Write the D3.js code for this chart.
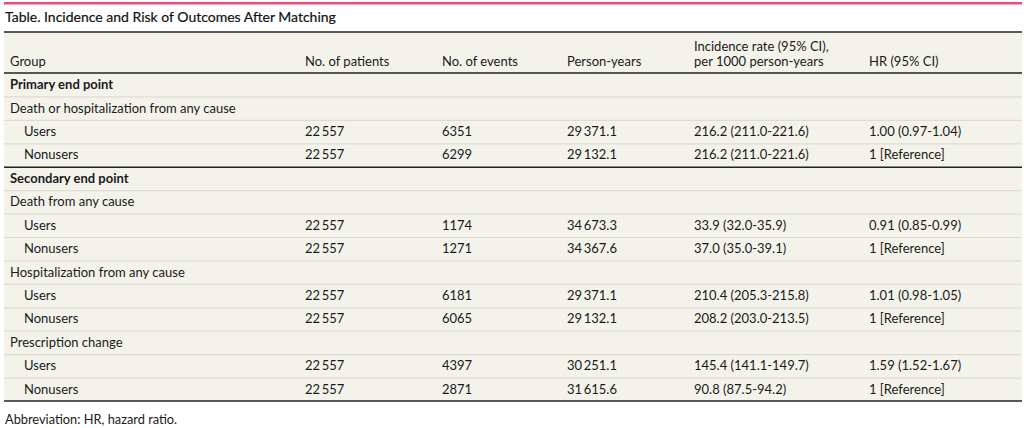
<!DOCTYPE html>
<html>
<head>
<meta charset="utf-8">
<script src="https://cdn.jsdelivr.net/npm/d3@7"></script>
<style>
  body { margin: 0; background: #fff; }
  svg { display: block; font-family: Lato, "Open Sans", sans-serif; }
</style>
</head>
<body>
<script>
(function () {
    'use strict';

    var title = 'Table. Incidence and Risk of Outcomes After Matching';
    var footnote = 'Abbreviation: HR, hazard ratio.';
    var headers = ['Group', 'No. of patients', 'No. of events', 'Person-years',
        'Incidence rate (95% CI),|per 1000 person-years', 'HR (95% CI)'];

    // row kinds: section (bold), outcome, group (indented)
    var rowKinds = ['section', 'outcome', 'group', 'group',
        'section', 'outcome', 'group', 'group', 'outcome', 'group', 'group', 'outcome', 'group', 'group'];
    var rowLabels = ['Primary end point', 'Death or hospitalization from any cause', 'Users', 'Nonusers',
        'Secondary end point', 'Death from any cause', 'Users', 'Nonusers',
        'Hospitalization from any cause', 'Users', 'Nonusers',
        'Prescription change', 'Users', 'Nonusers'];
    var patients = ['', '', '22\u2009557', '22\u2009557', '', '', '22\u2009557', '22\u2009557',
        '', '22\u2009557', '22\u2009557', '', '22\u2009557', '22\u2009557'];
    var events = ['', '', '6351', '6299', '', '', '1174', '1271', '', '6181', '6065', '', '4397', '2871'];
    var personYears = ['', '', '29\u2009371.1', '29\u2009132.1', '', '', '34\u2009673.3', '34\u2009367.6',
        '', '29\u2009371.1', '29\u2009132.1', '', '30\u2009251.1', '31\u2009615.6'];
    var incidence = ['', '', '216.2 (211.0-221.6)', '216.2 (211.0-221.6)', '', '',
        '33.9 (32.0-35.9)', '37.0 (35.0-39.1)', '', '210.4 (205.3-215.8)', '208.2 (203.0-213.5)',
        '', '145.4 (141.1-149.7)', '90.8 (87.5-94.2)'];
    var hr = ['', '', '1.00 (0.97-1.04)', '1 [Reference]', '', '',
        '0.91 (0.85-0.99)', '1 [Reference]', '', '1.01 (0.98-1.05)', '1 [Reference]',
        '', '1.59 (1.52-1.67)', '1 [Reference]'];

    var width = 1024, height = 428;
    var left = 4, right = 1022;
    var colX = [10, 305, 442, 567, 694, 869];
    var indent = 24;

    var svg = d3.select('body')
        .append('svg')
        .attr('width', width)
        .attr('height', height);

    var y = d3.scaleBand()
        .domain(d3.range(rowLabels.length))
        .range([73, 401]);

    // pink rule and title
    svg.append('rect')
        .attr('x', left).attr('y', 2)
        .attr('width', right - left).attr('height', 2.5)
        .attr('fill', '#ee4a7c');
    svg.append('text')
        .attr('x', 5).attr('y', 22)
        .attr('font-size', 14)
        .attr('fill', '#111')
        .attr('stroke', '#111')
        .attr('stroke-width', 0.2)
        .text(title);

    // table background
    svg.append('rect')
        .attr('x', left).attr('y', 32)
        .attr('width', right - left).attr('height', 401 - 32)
        .attr('fill', '#f4f3eb');

    // header
    var head = svg.append('g').attr('font-size', 13).attr('fill', '#1a1a1a');
    headers.forEach(function (h, i) {
        var lines = h.split('|');
        var t = head.append('text').attr('x', colX[i]).attr('y', 66 - (lines.length - 1) * 15);
        lines.forEach(function (ln, j) {
            t.append('tspan').attr('x', colX[i]).attr('dy', j ? 15 : 0).text(ln);
        });
    });

    // rows
    var rows = svg.selectAll('g.row')
        .data(rowLabels)
        .enter()
        .append('g')
        .attr('class', 'row')
        .attr('transform', function (d, i) { return 'translate(0,' + y(i) + ')'; });

    rows.filter(function (d, i) { return i > 0; })
        .append('line')
        .attr('x1', left).attr('x2', right)
        .attr('y1', 0.5).attr('y2', 0.5)
        .attr('stroke', function (d, i) { return rowKinds[i + 1] === 'section' ? '#222' : '#dedcd2'; })
        .attr('stroke-width', function (d, i) { return rowKinds[i + 1] === 'section' ? 1.5 : 1.2; });

    var cols = [rowLabels, patients, events, personYears, incidence, hr];
    cols.forEach(function (col, c) {
        rows.append('text')
            .attr('x', function (d, i) { return rowKinds[i] === 'group' && c === 0 ? indent : colX[c]; })
            .attr('y', y.bandwidth() / 2 + 4.5)
            .attr('font-size', 13)
            .attr('font-weight', function (d, i) { return rowKinds[i] === 'section' ? 700 : 400; })
            .attr('fill', '#1a1a1a')
            .text(function (d, i) { return col[i]; });
    });

    // dark rules
    [[32, 1.5], [73, 1.5], [401, 1.5]].forEach(function (r) {
        svg.append('line')
            .attr('x1', left).attr('x2', right)
            .attr('y1', r[0]).attr('y2', r[0])
            .attr('stroke', '#222').attr('stroke-width', r[1]);
    });

    svg.append('text')
        .attr('x', 5).attr('y', 424)
        .attr('font-size', 12.8)
        .attr('fill', '#1a1a1a')
        .text(footnote);
}());
</script>
</body>
</html>
